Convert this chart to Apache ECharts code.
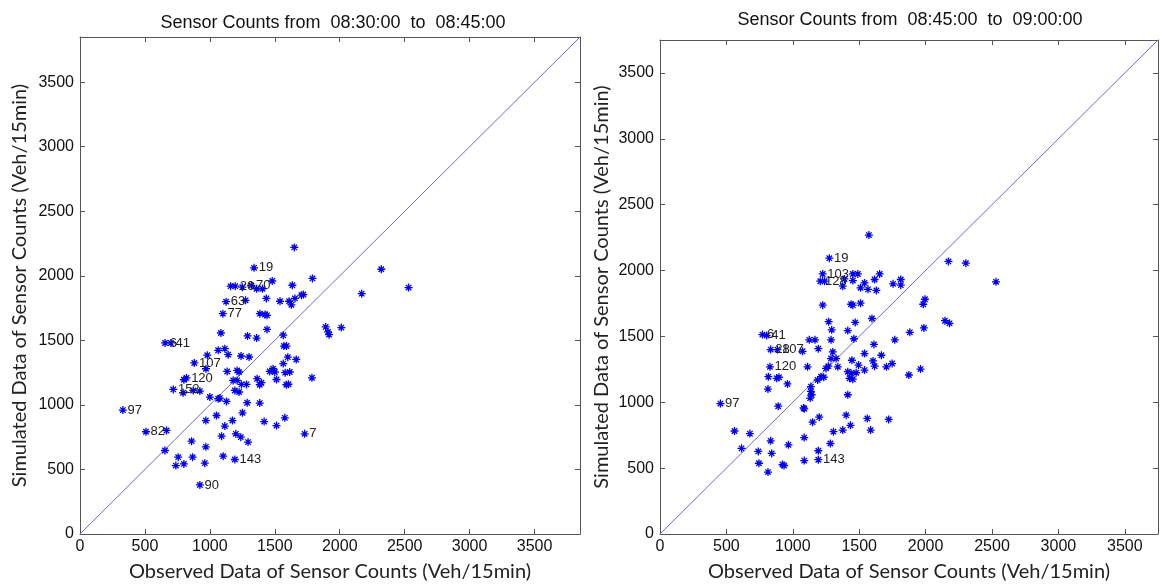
<!DOCTYPE html>
<html>
<head>
<meta charset="utf-8">
<script src="https://cdn.jsdelivr.net/npm/echarts@6/dist/echarts.min.js"></script>
<style>
html,body{margin:0;padding:0;background:#fff;}
#c{width:1160px;height:587px;}
</style>
</head>
<body>
<div id="c"></div>
<script>
// ---------- data ----------
var titles = ['Sensor Counts from  08:30:00  to  08:45:00', 'Sensor Counts from  08:45:00  to  09:00:00'];
var xName = 'Observed Data of Sensor Counts (Veh/15min)';
var yName = 'Simulated Data of Sensor Counts (Veh/15min)';
var axisMax = [3850, 3750];
var tickStep = 500;

// left panel: observed (x), simulated (y), sensor id label ('' = none)
var leftObs = [1650,1340,1480,1790,1635,1160,1195,1250,1320,1360,1405,1125,1275,1435,1540,1610,1628,1655,1705,1720,
  1100,1385,1425,1440,1085,1290,1360,1440,1565,1570,1590,1600,1665,1565,1615,1580,1786,1605,655,700,
  880,980,970,1064,1115,1141,1240,1302,1133,1210,1225,1179,1210,1243,1282,1192,1225,1364,1397,1384,
  1461,1487,1500,1513,1589,820,800,718,794,872,923,1000,1064,1077,1128,1287,1384,1251,1051,969,
  1115,1174,1418,1513,1577,1730,330,508,666,654,859,969,1090,1200,1238,1294,756,738,800,867,
  961,1102,1192,923,1892,1910,1918,2012,2169,2320,2530];
var leftSim = [2220,2062,1960,1980,1927,1920,1920,1912,1925,1900,1900,1800,1810,1825,1803,1803,1775,1825,1850,1855,
  1707,1707,1700,1694,1557,1534,1518,1585,1540,1456,1456,1370,1352,1320,1255,1250,1210,1160,1480,1480,
  1325,1385,1280,1423,1436,1389,1379,1371,1259,1267,1255,1190,1190,1159,1159,1112,1100,1203,1172,1156,
  1259,1280,1255,1197,1156,1209,1195,1120,1094,1112,1107,1061,1048,1053,1027,1017,1014,939,918,879,
  836,879,871,840,900,776,960,792,802,647,719,675,758,776,750,712,595,530,543,595,
  549,603,577,380,1604,1565,1544,1599,1862,2051,1909];
var leftIds = ['','19','','','','','20','','70','','','63','','','','','','','','',
  '77','','','','','','','','','','','','','','','','','','6','41',
  '107','','','','','','','','','','','','','','','','','','','',
  '','','','','','120','','152','','','','','','','','','','','','',
  '','','','','','7','97','82','','','','','','','','','','','','',
  '','','143','90','','','','','','',''];

// right panel
var rightObs = [1573,1275,1225,1207,1240,1452,1490,1654,1389,1452,1540,1616,1510,1566,1629,1376,1755,1813,1813,2172,
  2303,2530,1995,1982,1225,1439,1452,1510,1270,1293,1288,1470,1414,1460,1596,2146,2180,1987,1881,1768,
  1124,1167,1192,1073,1301,1288,1326,1611,1540,1667,1604,1616,1445,1495,1540,1705,1748,1111,1250,1268,
  1339,1212,1187,1233,1414,1439,1477,1427,1452,1874,1962,1136,1136,1142,1131,1414,1086,1149,1199,1402,
  1561,1722,1306,1376,1434,1586,1086,1283,1192,1086,1192,771,803,833,884,828,816,879,896,813,
  960,455,890,1081,561,677,614,833,740,841,967,745,813,922,934];
var rightSim = [2269,2094,1974,1919,1919,1974,1974,1974,1936,1924,1906,1932,1869,1857,1849,1881,1899,1932,1889,2069,
  2056,1914,1782,1744,1737,1744,1737,1752,1612,1550,1474,1606,1544,1482,1636,1619,1599,1564,1531,1474,
  1474,1474,1407,1387,1382,1332,1332,1439,1370,1357,1314,1274,1319,1282,1244,1269,1294,1269,1257,1274,
  1269,1194,1169,1190,1232,1220,1224,1182,1175,1207,1252,1119,1082,1057,1032,1057,950,849,887,902,
  877,870,777,789,825,789,732,687,632,557,564,1514,1507,1400,1400,1269,1194,1182,1190,1100,
  1139,990,970,957,782,762,650,707,627,612,677,537,470,527,520];
var rightIds = ['','19','103','128','','','','','','','','','','','','','','','','',
  '','','','','','','','','','','','','','','','','','','','',
  '','','','','','','','','','','','','','','','','','','','',
  '','','','','','','','','','','','','','','','','','','','',
  '','','','','','','','','','','143','6','41','28','107','120','','','','',
  '','97','','','','','','','','','','','','',''];

// ---------- chart ----------
var font = '"Liberation Sans", Arial, sans-serif';
var nameFont = 'Lato, "Open Sans", sans-serif';
var star = 'path://M0 5L10 5M5 0L5 10M1.6 1.6L8.4 8.4M8.4 1.6L1.6 8.4';

function pts(xs, ys, ids) {
  var out = [];
  for (var i = 0; i < xs.length; i++) {
    var item = { value: [xs[i], ys[i]] };
    if (ids[i]) {
      item.label = { show: true, formatter: ids[i] };
    }
    out.push(item);
  }
  return out;
}
function plain(v) { return String(v); }

var grids = [
  { left: 80, top: 37, width: 500, height: 498 },
  { left: 660, top: 40, width: 498, height: 497 }
];

var xAxes = [], yAxes = [], series = [];
for (var g = 0; g < 2; g++) {
  var m = axisMax[g];
  var lineStyle = { color: '#555', width: 1 };
  xAxes.push({
    gridIndex: g, type: 'value', min: 0, max: m, interval: tickStep, position: 'bottom',
    name: xName, nameLocation: 'middle', nameGap: 28,
    nameTextStyle: { fontFamily: nameFont, fontSize: 20, color: '#222' },
    axisLine: { show: true, onZero: false, lineStyle: lineStyle },
    axisTick: { show: true, inside: true, length: 5, lineStyle: lineStyle },
    axisLabel: { show: true, fontFamily: font, fontSize: 16, color: '#111', margin: 5,
      showMaxLabel: false, formatter: plain },
    splitLine: { show: false }
  });
  xAxes.push({
    gridIndex: g, type: 'value', min: 0, max: m, interval: tickStep, position: 'top',
    axisLine: { show: true, onZero: false, lineStyle: lineStyle },
    axisTick: { show: true, inside: true, length: 5, lineStyle: lineStyle },
    axisLabel: { show: false }, splitLine: { show: false }
  });
  yAxes.push({
    gridIndex: g, type: 'value', min: 0, max: m, interval: tickStep, position: 'left',
    name: yName, nameLocation: 'middle', nameGap: g === 0 ? 50 : 48, nameRotate: 90,
    nameTextStyle: { fontFamily: nameFont, fontSize: 20, color: '#222' },
    axisLine: { show: true, onZero: false, lineStyle: lineStyle },
    axisTick: { show: true, inside: true, length: 5, lineStyle: lineStyle },
    axisLabel: { show: true, fontFamily: font, fontSize: 16, color: '#111', margin: 6,
      showMaxLabel: false, formatter: plain },
    splitLine: { show: false }
  });
  yAxes.push({
    gridIndex: g, type: 'value', min: 0, max: m, interval: tickStep, position: 'right',
    axisLine: { show: true, onZero: false, lineStyle: lineStyle },
    axisTick: { show: true, inside: true, length: 5, lineStyle: lineStyle },
    axisLabel: { show: false }, splitLine: { show: false }
  });
  series.push({
    type: 'line', xAxisIndex: g * 2, yAxisIndex: g * 2,
    data: [[0, 0], [m, m]], symbol: 'none', silent: true,
    lineStyle: { color: '#6a6ad0', width: 1 }, z: 1
  });
  series.push({
    type: 'scatter', xAxisIndex: g * 2, yAxisIndex: g * 2,
    data: g === 0 ? pts(leftObs, leftSim, leftIds) : pts(rightObs, rightSim, rightIds),
    symbol: star, symbolSize: 8,
    itemStyle: { color: 'rgba(0,0,0,0)', borderColor: '#0000ee', borderWidth: 1.3, opacity: 1 },
    label: { show: false, position: 'right', distance: 0, fontFamily: font, fontSize: 13, color: '#222' },
    labelLayout: { hideOverlap: false },
    z: 2
  });
}

var chart = echarts.init(document.getElementById('c'), null, { renderer: 'canvas' });
chart.setOption({
  backgroundColor: '#fff',
  animation: false,
  title: [
    { text: titles[0], left: 328, top: 9, textAlign: 'center',
      textStyle: { fontFamily: font, fontSize: 18, fontWeight: 'normal', color: '#111' } },
    { text: titles[1], left: 905, top: 6, textAlign: 'center',
      textStyle: { fontFamily: font, fontSize: 18, fontWeight: 'normal', color: '#111' } }
  ],
  grid: grids,
  xAxis: xAxes,
  yAxis: yAxes,
  series: series
});
</script>
</body>
</html>
